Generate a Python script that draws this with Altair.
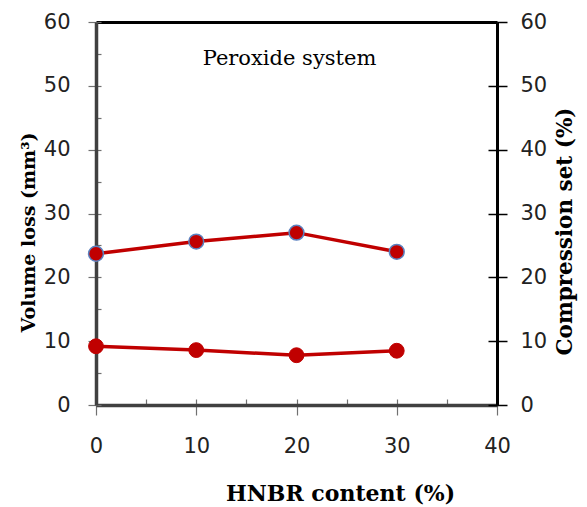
import altair as alt
import pandas as pd

hnbr = [0, 10, 20, 30]
volume_loss = [9.2, 8.6, 7.8, 8.5]
compression_set = [23.7, 25.6, 27.0, 24.0]

x_ticks = [0, 10, 20, 30, 40]
x_minor = [0, 5, 10, 15, 20, 25, 30, 35, 40]
y_ticks = [0, 10, 20, 30, 40, 50, 60]
y_minor = [0, 5, 10, 15, 20, 25, 30, 35, 40, 45, 50, 55, 60]

df = pd.DataFrame({"hnbr": hnbr, "volume_loss": volume_loss, "compression_set": compression_set})

RED = "#C00000"
xs = alt.Scale(domain=[0, 40], nice=False)
ys = alt.Scale(domain=[0, 60], nice=False)
LABEL_FONT = "DejaVu Sans"
TITLE_FONT = "DejaVu Serif"

base = alt.Chart(df)

lower_line = base.mark_line(color=RED, strokeWidth=3.5).encode(
    x=alt.X("hnbr:Q", scale=xs, axis=alt.Axis(
        orient="bottom", values=x_ticks, grid=False, title="HNBR content (%)",
        domainColor="#404040", domainWidth=3.5, tickColor="#707070", tickSize=10, tickWidth=1.2,
        labelFont=LABEL_FONT, labelFontSize=21, labelColor="#222222", labelPadding=20, labelFlush=False,
        titleFont=TITLE_FONT, titleFontWeight="bold", titleFontSize=22, titleColor="black",
        titleX=244, titleY=88, titleBaseline="middle", titleAlign="center")),
    y=alt.Y("volume_loss:Q", scale=ys, axis=alt.Axis(
        orient="left", values=y_ticks, grid=False, title="Volume loss (mm³)",
        domainColor="#404040", domainWidth=3.5, tickColor="#707070", tickSize=8, tickWidth=1.2,
        labelFont=LABEL_FONT, labelFontSize=21, labelColor="#222222", labelPadding=18, labelFlush=False,
        titleFont=TITLE_FONT, titleFontWeight="bold", titleFontSize=19, titleColor="black",
        titleAngle=-90, titleX=-68, titleY=210, titleBaseline="middle", titleAlign="center")),
)
lower_pts = base.mark_point(filled=True, size=220, color=RED, stroke=RED, strokeWidth=1, opacity=1).encode(
    x=alt.X("hnbr:Q", scale=xs, axis=None),
    y=alt.Y("volume_loss:Q", scale=ys, axis=None),
)

upper_line = base.mark_line(color=RED, strokeWidth=3.5).encode(
    x=alt.X("hnbr:Q", scale=xs, axis=alt.Axis(
        orient="top", grid=False, title="", labels=False, ticks=False,
        domainColor="black", domainWidth=3)),
    y=alt.Y("compression_set:Q", scale=ys, axis=alt.Axis(
        orient="right", values=y_ticks, grid=False, title="Compression set (%)",
        domainColor="black", domainWidth=3, tickColor="black", tickSize=10, tickWidth=1.5,
        labelFont=LABEL_FONT, labelFontSize=21, labelColor="#222222", labelPadding=13, labelFlush=False,
        titleFont=TITLE_FONT, titleFontWeight="bold", titleFontSize=21.5, titleColor="black",
        titleAngle=-90, titleX=68, titleY=209, titleBaseline="middle", titleAlign="center")),
)
upper_pts = base.mark_point(filled=True, size=220, color=RED, stroke="#5B82C0", strokeWidth=1.5, opacity=1).encode(
    x=alt.X("hnbr:Q", scale=xs, axis=None),
    y=alt.Y("compression_set:Q", scale=ys, axis=None),
)

inner_lb = base.mark_point(opacity=0).encode(
    x=alt.X("hnbr:Q", scale=xs, axis=alt.Axis(
        orient="bottom", values=x_minor, offset=-6, tickSize=6, tickColor="#707070", tickWidth=1.2,
        domain=False, labels=False, grid=False, title="")),
    y=alt.Y("volume_loss:Q", scale=ys, axis=alt.Axis(
        orient="left", values=y_minor, offset=-5, tickSize=5, tickColor="#707070", tickWidth=1.2,
        domain=False, labels=False, grid=False, title="")),
)
inner_r = base.mark_point(opacity=0).encode(
    x=alt.X("hnbr:Q", scale=xs, axis=None),
    y=alt.Y("compression_set:Q", scale=ys, axis=alt.Axis(
        orient="right", values=y_ticks, offset=-9, tickSize=9, tickColor="black", tickWidth=1.5,
        domain=False, labels=False, grid=False, title="")),
)

chart = alt.layer(
    inner_lb, inner_r, lower_line, upper_line, lower_pts, upper_pts
).resolve_scale(x="shared", y="shared").resolve_axis(x="independent", y="independent").properties(
    width=401, height=383,
    title=alt.TitleParams(text="Peroxide system", font=TITLE_FONT, fontSize=21, fontWeight="normal",
                          color="black", anchor="middle", offset=0, dy=69, dx=-7, baseline="middle"),
    autosize=alt.AutoSizeParams(type="none"),
    padding={"left": 96, "top": 22, "right": 90, "bottom": 102},
).configure_view(stroke=None).configure(background="white")

chart.save("out.html", embed_options={"renderer": "svg", "actions": False})
